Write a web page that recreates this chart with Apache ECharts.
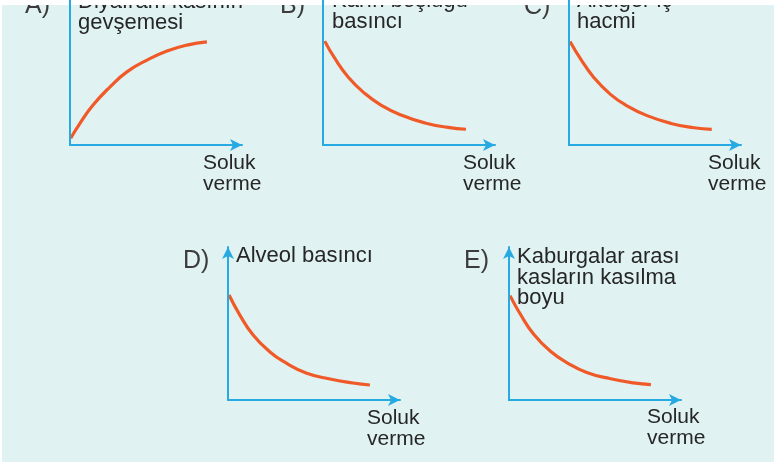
<!DOCTYPE html>
<html>
<head>
<meta charset="utf-8">
<script src="https://cdn.jsdelivr.net/npm/echarts@6/dist/echarts.min.js"></script>
<style>
  html, body { margin: 0; padding: 0; background: #fff; }
  #chart { width: 774px; height: 472px; }
</style>
</head>
<body>
<div id="chart"></div>
<script>
// panel texts
var letters = ['A)', 'B)', 'C)', 'D)', 'E)'];
var titles = [
  'Diyafram kasının\ngevşemesi',
  'Karın boşluğu\nbasıncı',
  'Akciğer iç\nhacmi',
  'Alveol basıncı',
  'Kaburgalar arası\nkasların kasılma\nboyu'
];
var xName = 'Soluk\nverme';

// curve readings (axis units 0..10, axis end = arrow tip)
var xA = [0.04, 0.58, 1.34, 2.33, 3.31, 4.48, 5.64, 6.8, 7.96];
var yA = [0.44, 1.42, 2.61, 3.8, 4.78, 5.55, 6.14, 6.53, 6.74];
var xB = [0.1, 0.68, 1.46, 2.42, 3.37, 4.54, 5.93, 7.27, 8.31];
var yB = [6.79, 5.67, 4.45, 3.38, 2.61, 1.96, 1.44, 1.15, 1.03];
var xC = [0.06, 0.68, 1.45, 2.41, 3.37, 4.54, 5.93, 7.27, 8.3];
var yC = [6.77, 5.62, 4.4, 3.31, 2.56, 1.92, 1.41, 1.13, 1.02];
var xD = [0.06, 0.69, 1.46, 2.44, 3.37, 4.54, 5.93, 7.27, 8.25];
var yD = [6.86, 5.55, 4.25, 3.14, 2.42, 1.77, 1.37, 1.11, 0.98];
var xE = [0.06, 0.68, 1.45, 2.43, 3.36, 4.52, 5.91, 7.24, 8.25];
var yE = [6.82, 5.57, 4.28, 3.17, 2.45, 1.8, 1.39, 1.12, 1.01];

var curves = [[xA, yA], [xB, yB], [xC, yC], [xD, yD], [xE, yE]];

// layout: axis origin and text anchors (baselines)
var origins = [[70, 145], [323, 145], [569, 145], [228, 400], [509, 400]];
var letterPos = [[25, 15], [280, 15], [524, 16], [183, 270], [464, 270]];
var titlePos = [[78, 10], [332, 9], [577, 9], [236, 264], [517, 265]];
var namePos = [[203, 171], [463, 171], [708, 171], [367, 426], [647, 425]];

var axisColor = '#27aae1';
var curveColor = '#f05a28';
var font = '"Liberation Sans", Arial, sans-serif';

var dom = document.getElementById('chart');
var myChart = echarts.init(dom, null, { renderer: 'canvas' });

var grids = [], xAxes = [], yAxes = [], series = [], graphics = [];

function axisCfg(i, arrow) {
  return {
    gridIndex: i,
    type: 'value',
    min: 0,
    max: 10,
    z: 5,
    axisLine: {
      show: true,
      onZero: false,
      symbol: ['none', arrow ? 'arrow' : 'none'],
      symbolSize: [9, 12],
      lineStyle: { color: axisColor, width: 2 }
    },
    axisTick: { show: false },
    axisLabel: { show: false },
    splitLine: { show: false }
  };
}

function textEl(str, pos, size, lh, color) {
  return {
    type: 'text',
    x: pos[0],
    y: pos[1] - size * 0.35 - lh / 2,
    z: 0,
    silent: true,
    style: {
      text: str,
      font: size + 'px ' + font,
      fill: color,
      lineHeight: lh,
      verticalAlign: 'top',
      align: 'left'
    }
  };
}

for (var i = 0; i < 5; i++) {
  var o = origins[i];
  grids.push({ left: o[0], top: o[1] - 153, width: 172, height: 153, outerBoundsMode: 'none' });
  xAxes.push(axisCfg(i, true));
  // top row: the y axis runs past the top edge of the page
  yAxes.push(axisCfg(i, i >= 3));
  var pts = [];
  for (var k = 0; k < curves[i][0].length; k++) {
    pts.push([curves[i][0][k], curves[i][1][k]]);
  }
  series.push({
    type: 'line',
    xAxisIndex: i,
    yAxisIndex: i,
    data: pts,
    smooth: true,
    showSymbol: false,
    silent: true,
    lineStyle: { color: curveColor, width: 3.2 }
  });
  graphics.push(textEl(letters[i], letterPos[i], 25, 25, '#3c3c3c'));
  graphics.push(textEl(titles[i], titlePos[i], 22, 20.5, '#262626'));
  graphics.push(textEl(xName, namePos[i], 21, 20.5, '#262626'));
}

// white page edges around the figure
graphics.push({ type: 'rect', shape: { x: 0, y: 0, width: 774, height: 5 }, style: { fill: '#fff' }, z: 1, silent: true });
graphics.push({ type: 'rect', shape: { x: 0, y: 0, width: 2, height: 472 }, style: { fill: '#fff' }, z: 1, silent: true });
graphics.push({ type: 'rect', shape: { x: 0, y: 462, width: 774, height: 10 }, style: { fill: '#fff' }, z: 1, silent: true });

var option = {
  backgroundColor: '#e0f2f2',
  animation: false,
  grid: grids,
  xAxis: xAxes,
  yAxis: yAxes,
  series: series,
  graphic: graphics
};

myChart.setOption(option);
window.addEventListener('resize', myChart.resize);
</script>
</body>
</html>
